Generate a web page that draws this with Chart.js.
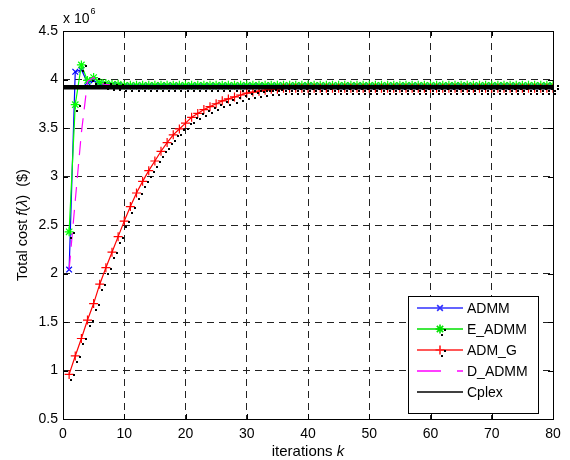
<!DOCTYPE html>
<html><head><meta charset="utf-8">
<script src="https://cdn.jsdelivr.net/npm/chart.js@4.4.1/dist/chart.umd.min.js"></script>
<style>html,body{margin:0;padding:0;background:#fff;}#wrap{width:570px;height:460px;}</style>
</head><body><div id="wrap"><canvas id="c" width="570" height="460"></canvas></div>
<script>
// ---- data (cost in units of 10^6 $) ----
const iterations = [
 1,2,3,4,5,6,7,8,9,10,11,12,13,14,15,16,17,18,19,20,
 21,22,23,24,25,26,27,28,29,30,31,32,33,34,35,36,37,38,39,40,
 41,42,43,44,45,46,47,48,49,50,51,52,53,54,55,56,57,58,59,60,
 61,62,63,64,65,66,67,68,69,70,71,72,73,74,75,76,77,78,79,80];
const admm = [
 2.04,4.08,4.10,3.97,3.99,3.95,3.94,3.94,3.94,3.93,
 3.93,3.93,3.93,3.93,3.93,3.93,3.93,3.93,3.93,3.93,
 3.93,3.93,3.93,3.93,3.93,3.93,3.93,3.93,3.93,3.93,
 3.93,3.93,3.93,3.93,3.93,3.93,3.93,3.93,3.93,3.93,
 3.93,3.93,3.93,3.93,3.93,3.93,3.93,3.93,3.93,3.93,
 3.93,3.93,3.93,3.93,3.93,3.93,3.93,3.93,3.93,3.93,
 3.93,3.93,3.93,3.93,3.93,3.93,3.93,3.93,3.93,3.93,
 3.93,3.93,3.93,3.93,3.93,3.93,3.93,3.93,3.93,3.93];
const eAdmm = [
 2.43,3.74,4.15,3.99,4.02,3.97,3.96,3.95,3.95,3.94,
 3.94,3.94,3.94,3.94,3.94,3.94,3.94,3.94,3.94,3.94,
 3.94,3.94,3.94,3.94,3.94,3.94,3.94,3.94,3.94,3.94,
 3.94,3.94,3.94,3.94,3.94,3.94,3.94,3.94,3.94,3.94,
 3.94,3.94,3.94,3.94,3.94,3.94,3.94,3.94,3.94,3.94,
 3.94,3.94,3.94,3.94,3.94,3.94,3.94,3.94,3.94,3.94,
 3.94,3.94,3.94,3.94,3.94,3.94,3.94,3.94,3.94,3.94,
 3.94,3.94,3.94,3.94,3.94,3.94,3.94,3.94,3.94,3.94];
const admG = [
 0.96,1.15,1.33,1.52,1.69,1.89,2.06,2.22,2.38,2.54,
 2.69,2.83,2.95,3.06,3.16,3.26,3.35,3.43,3.49,3.55,
 3.61,3.65,3.69,3.72,3.75,3.78,3.80,3.82,3.84,3.86,
 3.87,3.88,3.89,3.90,3.90,3.91,3.91,3.91,3.91,3.91,
 3.91,3.91,3.91,3.91,3.91,3.91,3.91,3.91,3.91,3.91,
 3.91,3.91,3.91,3.91,3.91,3.91,3.91,3.91,3.91,3.91,
 3.91,3.91,3.91,3.91,3.91,3.91,3.91,3.91,3.91,3.91,
 3.91,3.91,3.91,3.91,3.91,3.91,3.91,3.91,3.91,3.91];
const dAdmm = [
 2.04,2.75,3.45,3.98,4.02,3.96,3.95,3.94,3.94,3.93,
 3.93,3.93,3.93,3.93,3.93,3.93,3.93,3.93,3.93,3.93,
 3.93,3.93,3.93,3.93,3.93,3.93,3.93,3.93,3.93,3.93,
 3.93,3.93,3.93,3.93,3.93,3.93,3.93,3.93,3.93,3.93,
 3.93,3.93,3.93,3.93,3.93,3.93,3.93,3.93,3.93,3.93,
 3.93,3.93,3.93,3.93,3.93,3.93,3.93,3.93,3.93,3.93,
 3.93,3.93,3.93,3.93,3.93,3.93,3.93,3.93,3.93,3.93,
 3.93,3.93,3.93,3.93,3.93,3.93,3.93,3.93,3.93,3.93];
const cplexIter = [0, 80];
const cplexCost = [3.92, 3.92];
const seriesNames = ['ADMM','E_ADMM','ADM_G','D_ADMM','Cplex'];
const xTicks = [0,10,20,30,40,50,60,70,80];
const yTicks = [0.5,1,1.5,2,2.5,3,3.5,4,4.5];

// ---- chart ----
const FONT = 'Liberation Sans, Arial, Helvetica, sans-serif';
const pts = (xs, ys) => xs.map((k,i)=>({x:k, y:ys[i]}));
function series(label, xs, ys, color, style, radius, extra){
  return Object.assign({label, data: pts(xs,ys), borderColor: color, backgroundColor: color,
    pointBorderColor: color, pointBackgroundColor: color, borderWidth: 1.2,
    pointStyle: style, pointRadius: radius, pointHoverRadius: radius, pointBorderWidth: 1.2,
    tension: 0, fill: false}, extra||{});
}
const datasets = [
  series(seriesNames[0], iterations, admm, '#0000ff', 'crossRot', 4, {order:4}),
  series(seriesNames[1], iterations, eAdmm, '#00ff00', 'star', 4.5, {order:3, dots:true}),
  series(seriesNames[2], iterations, admG, '#ff0000', 'cross', 4.5, {order:2, dots:true}),
  series(seriesNames[3], iterations, dAdmm, '#ff00ff', false, 0, {order:1, borderDash:[14,9]}),
  series(seriesNames[4], cplexIter, cplexCost, '#000000', false, 0, {order:0, borderWidth:4.5})
];

const legendSpec = [
  {color:'#3030ff', style:'crossRot', r:4},
  {color:'#00e000', style:'star', r:4.5, dots:true},
  {color:'#ff2020', style:'cross', r:4.5, dots:true},
  {color:'#ff00ff', dash:[24,16]},
  {color:'#000000'}
];

const extras = {
  id:'extras',
  afterDatasetsDraw(chart){
    const ctx = chart.ctx;
    ctx.save();
    ctx.fillStyle = '#000';
    chart.data.datasets.forEach((ds,i)=>{
      if(!ds.dots) return;
      chart.getDatasetMeta(i).data.forEach(p=>{
        ctx.fillRect(Math.round(p.x)+4, Math.round(p.y), 2, 2);
        ctx.fillRect(Math.round(p.x)+1, Math.round(p.y)+5, 2, 2);
      });
    });
    ctx.restore();
  },
  afterDraw(chart){
    const ctx = chart.ctx, a = chart.chartArea, xs = chart.scales.x, ys = chart.scales.y;
    ctx.save();
    // box
    ctx.strokeStyle = '#000'; ctx.lineWidth = 1; ctx.setLineDash([]);
    ctx.strokeRect(Math.round(a.left)+0.5, Math.round(a.top)+0.5, Math.round(a.right-a.left), Math.round(a.bottom-a.top));
    // inward ticks
    ctx.beginPath();
    xTicks.forEach(v=>{
      const x = Math.round(xs.getPixelForValue(v))+0.5;
      ctx.moveTo(x, a.bottom); ctx.lineTo(x, a.bottom-5);
      ctx.moveTo(x, a.top); ctx.lineTo(x, a.top+5);
    });
    yTicks.forEach(v=>{
      const y = Math.round(ys.getPixelForValue(v))+0.5;
      ctx.moveTo(a.left, y); ctx.lineTo(a.left+5, y);
      ctx.moveTo(a.right, y); ctx.lineTo(a.right-5, y);
    });
    ctx.stroke();
    // exponent
    ctx.fillStyle = '#000'; ctx.textBaseline = 'alphabetic'; ctx.textAlign = 'left';
    ctx.font = '14px ' + FONT;
    ctx.fillText('x 10', a.left, 23);
    const w10 = ctx.measureText('x 10').width;
    ctx.font = '9px ' + FONT;
    ctx.fillText('6', a.left + w10 + 1, 14);
    // x title
    drawParts(ctx, [['iterations ', ''], ['k', 'italic ']], (a.left+a.right)/2, 456, 15);
    // y title
    ctx.save();
    ctx.translate(22, (a.top+a.bottom)/2);
    ctx.rotate(-Math.PI/2);
    drawParts(ctx, [['Total cost ',''],['f','italic '],['(',''],['λ','italic '],[')  ($)','']], 0, 5, 14.5);
    ctx.restore();
    // legend
    const L = {x0:408, y0:296, x1:538, y1:413, rows:[308,329,350,371,392], lx0:417, lx1:463, mx:440, tx:467};
    ctx.fillStyle = '#fff';
    ctx.fillRect(L.x0, L.y0, L.x1-L.x0, L.y1-L.y0);
    ctx.strokeStyle = '#000'; ctx.lineWidth = 1;
    ctx.strokeRect(L.x0+0.5, L.y0+0.5, L.x1-L.x0, L.y1-L.y0);
    seriesNames.forEach((name,i)=>{
      const s = legendSpec[i], y = L.rows[i];
      ctx.strokeStyle = s.color; ctx.fillStyle = s.color; ctx.lineWidth = 1.6;
      ctx.setLineDash(s.dash||[]);
      ctx.beginPath(); ctx.moveTo(L.lx0, y); ctx.lineTo(L.lx1, y); ctx.stroke();
      ctx.setLineDash([]);
      if(s.style){
        ctx.strokeStyle = s.color; ctx.fillStyle = s.color;
        Chart.helpers.drawPoint(ctx, {pointStyle:s.style, radius:s.r, borderWidth:1.3, rotation:0}, L.mx, y);
      }
      if(s.dots){
        ctx.fillStyle = '#000';
        ctx.fillRect(L.mx+4, y, 2, 2);
        ctx.fillRect(L.mx+1, y+5, 2, 2);
      }
      ctx.fillStyle = '#000'; ctx.font = '14px ' + FONT;
      ctx.textAlign = 'left'; ctx.textBaseline = 'middle';
      ctx.fillText(name, L.tx, y+1);
    });
    ctx.restore();
  }
};
function drawParts(ctx, parts, cx, baseY, size){
  let total = 0;
  parts.forEach(p=>{ ctx.font = p[1] + size + 'px ' + FONT; total += ctx.measureText(p[0]).width; });
  let x = cx - total/2;
  ctx.textAlign = 'left'; ctx.textBaseline = 'alphabetic'; ctx.fillStyle = '#000';
  parts.forEach(p=>{ ctx.font = p[1] + size + 'px ' + FONT; ctx.fillText(p[0], x, baseY); x += ctx.measureText(p[0]).width; });
}

new Chart(document.getElementById('c'), {
  type: 'line',
  data: { datasets },
  options: {
    responsive: false, animation: false, devicePixelRatio: 1,
    layout: { padding: { top: 31, right: 17, left: 0, bottom: 0 } },
    plugins: { legend: { display: false }, tooltip: { enabled: false } },
    scales: {
      x: {
        type: 'linear', min: 0, max: 80,
        afterBuildTicks: s => { s.ticks = xTicks.map(v=>({value:v})); },
        afterFit: s => { s.height = 41; },
        ticks: { color:'#000', font:{ family: FONT, size: 14 }, padding: 7, maxRotation: 0,
                 callback: v => String(v) },
        grid: { color: '#222', lineWidth: 1, drawTicks: false },
        border: { display: false, dash: [7,5] }
      },
      y: {
        type: 'linear', min: 0.5, max: 4.5,
        afterBuildTicks: s => { s.ticks = yTicks.map(v=>({value:v})); },
        afterFit: s => { s.width = 63; },
        ticks: { color:'#000', font:{ family: FONT, size: 14 }, padding: 5,
                 callback: v => String(+(+v).toFixed(2)) },
        grid: { color: '#222', lineWidth: 1, drawTicks: false },
        border: { display: false, dash: [7,5] }
      }
    }
  },
  plugins: [extras]
});
</script></body></html>
